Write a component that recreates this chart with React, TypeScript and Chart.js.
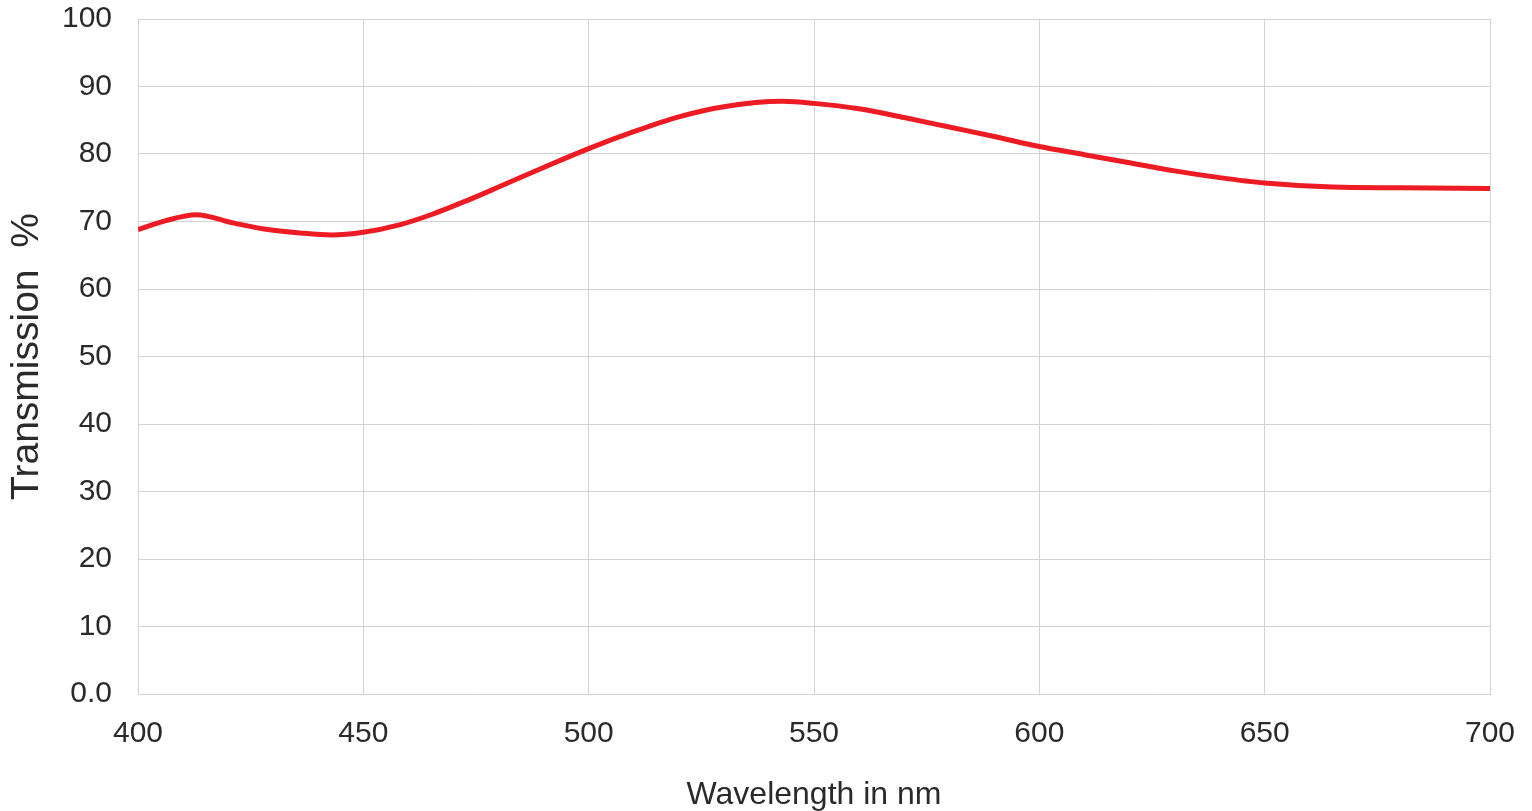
import React, { useEffect, useRef } from "react";
import { Chart, registerables } from "chart.js";

Chart.register(...registerables);

const wavelengths = [400, 406, 413, 421, 428, 436, 443, 450, 458, 465, 473, 480, 490, 500, 510, 520, 530, 543, 550, 560, 570, 580, 590, 600, 610, 620, 630, 640, 650, 665, 680, 700];
const transmission = [68.8, 70.1, 71.0, 69.8, 68.9, 68.3, 68.0, 68.4, 69.5, 71.0, 73.1, 75.1, 78.0, 80.8, 83.3, 85.5, 87.0, 87.8, 87.5, 86.7, 85.4, 84.0, 82.6, 81.1, 79.9, 78.7, 77.5, 76.5, 75.7, 75.1, 75.0, 74.9];
const xTitle = "Wavelength in nm";
const yTitle = "Transmission  %";

const FONT = '"Liberation Sans", Arial, Helvetica, sans-serif';
const TEXT = "#2a2a2a";
const GRID = "#d3d3d3";

export default function App() {
  const ref = useRef<HTMLCanvasElement | null>(null);

  useEffect(() => {
    if (!ref.current) return;
    const chart = new Chart(ref.current, {
      type: "line",
      data: {
        datasets: [
          {
            data: wavelengths.map((w, i) => ({ x: w, y: transmission[i] })),
            borderColor: "#ed1c24",
            borderWidth: 5,
            pointRadius: 0,
            fill: false,
            cubicInterpolationMode: "monotone",
          },
        ],
      },
      options: {
        animation: false,
        responsive: false,
        devicePixelRatio: 1,
        layout: { padding: { top: 19, right: 42, bottom: 0, left: 0 } },
        plugins: { legend: { display: false }, tooltip: { enabled: false } },
        scales: {
          x: {
            type: "linear",
            min: 400,
            max: 700,
            grid: { color: GRID, lineWidth: 1, drawTicks: false },
            border: { color: GRID, width: 1 },
            ticks: {
              stepSize: 50,
              autoSkip: false,
              maxRotation: 0,
              padding: 22,
              color: TEXT,
              font: { family: FONT, size: 30 },
            },
            title: {
              display: true,
              text: xTitle,
              color: TEXT,
              font: { family: FONT, size: 32, lineHeight: 1.0 },
              padding: 0,
            },
            afterFit: (s: any) => {
              s.height = 117;
              s.paddingLeft = 0;
              s.paddingRight = 0;
            },
          },
          y: {
            min: 0,
            max: 100,
            grid: { color: GRID, lineWidth: 1, drawTicks: false },
            border: { color: GRID, width: 1 },
            ticks: {
              stepSize: 10,
              padding: 26,
              color: TEXT,
              font: { family: FONT, size: 30 },
              callback: (v: any) => (Number(v) === 0 ? "0.0" : String(v)),
            },
            title: {
              display: true,
              text: yTitle,
              color: TEXT,
              font: { family: FONT, size: 39, lineHeight: 1.2 },
              padding: { top: 4, bottom: 4 },
            },
            afterFit: (s: any) => {
              s.width = 138;
              s.paddingTop = 0;
              s.paddingBottom = 0;
            },
          },
        },
      },
    });
    return () => chart.destroy();
  }, []);

  return (
    <div style={{ position: "absolute", left: 0, top: 0, width: 1532, height: 811, background: "#fff" }}>
      <canvas ref={ref} width={1532} height={811} />
    </div>
  );
}
